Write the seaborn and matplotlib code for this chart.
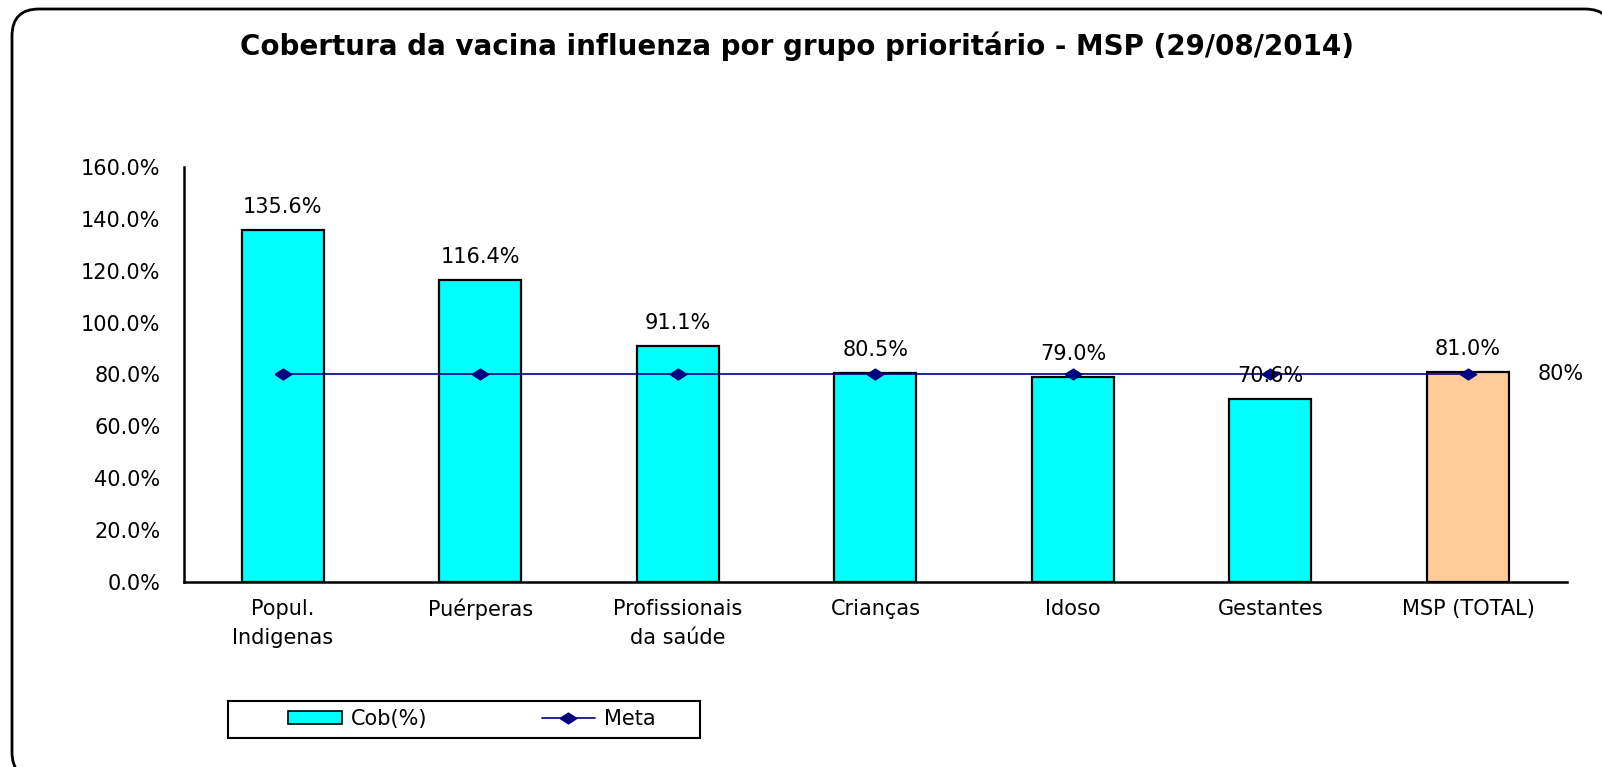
import matplotlib
matplotlib.use("Agg")
import matplotlib.pyplot as plt
import seaborn as sns
from matplotlib.patches import FancyBboxPatch, Patch, Rectangle
from matplotlib.lines import Line2D
from matplotlib.transforms import IdentityTransform

grupos = ["Popul.\nIndigenas", "Puérperas", "Profissionais\nda saúde", "Crianças",
          "Idoso", "Gestantes", "MSP (TOTAL)"]
cobertura = [135.6, 116.4, 91.1, 80.5, 79.0, 70.6, 81.0]
meta = [80, 80, 80, 80, 80, 80, 80]
cores = ["#00FFFF", "#00FFFF", "#00FFFF", "#00FFFF", "#00FFFF", "#00FFFF", "#FFCC99"]
yticks = [0, 20, 40, 60, 80, 100, 120, 140, 160]

sns.set_style("white")
plt.rcParams["font.family"] = ["DejaVu Sans"]
for k in ["text.color", "axes.labelcolor", "xtick.color", "ytick.color"]:
    plt.rcParams[k] = "black"

fs = 15
fig = plt.figure(figsize=(16.02, 7.67), dpi=100)
ax = fig.add_axes([0.1149, 0.2412, 0.978 - 0.1149, 0.7823 - 0.2412])
ax.patch.set_alpha(0)

sns.barplot(x=grupos, y=cobertura, hue=grupos, palette=cores, legend=False,
            width=0.415, edgecolor="black", linewidth=1.6, saturation=1, ax=ax)

diamante = [(-1, 0), (0, 0.65), (1, 0), (0, -0.65), (-1, 0)]
ax.plot(range(len(grupos)), meta, color="#000080", linewidth=1.2,
        marker=diamante, markersize=12, markerfacecolor="#000080",
        markeredgecolor="#000080")

for i, v in enumerate(cobertura):
    ax.text(i, v + 5, f"{v:.1f}%", ha="center", va="bottom", fontsize=fs)
ax.text(len(grupos) - 1 + 0.35, meta[-1], "80%", ha="left", va="center", fontsize=fs)

ax.set_ylim(0, 160)
ax.set_xlim(-0.5, len(grupos) - 0.5)
ax.set_yticks(yticks)
ax.set_yticklabels([f"{t:.1f}%" for t in yticks], fontsize=fs)
ax.tick_params(axis="y", direction="inout", length=11, width=1.5, pad=11.5, color="black")

ax.set_xticks([i - 0.5 for i in range(len(grupos) + 1)])
ax.set_xticklabels([])
ax.set_xticks(range(len(grupos)), minor=True)
ax.set_xticklabels(grupos, minor=True, fontsize=fs, linespacing=1.6, va="top")
ax.tick_params(axis="x", which="major", direction="inout", length=11, width=1.5, color="black")
ax.tick_params(axis="x", which="minor", length=0, pad=12)

for s in ["top", "right"]:
    ax.spines[s].set_visible(False)
for s in ["left", "bottom"]:
    ax.spines[s].set_color("black")
    ax.spines[s].set_linewidth(1.8)
ax.set_xlabel("")
ax.set_ylabel("")

fig.text(797 / 1602, 1 - 46 / 767,
         "Cobertura da vacina influenza por grupo prioritário - MSP (29/08/2014)",
         ha="center", va="center", fontsize=20, fontweight="bold")

handles = [Patch(facecolor="#00FFFF", edgecolor="black", linewidth=1.2),
           Line2D([0], [0], color="#000080", linewidth=1.2, marker=diamante,
                  markersize=12, markerfacecolor="#000080")]
leg = fig.legend(handles, ["Cob(%)", "Meta"], ncol=2, loc="center left",
                 bbox_to_anchor=(278 / 1602, 1 - 719 / 767), fontsize=fs,
                 frameon=False, borderpad=0, handlelength=2.55, handleheight=0.53,
                 columnspacing=5.5, handletextpad=0.43)
fig.patches.append(Rectangle((228 / 1602, 1 - 738 / 767), 472 / 1602, 37 / 767,
                             transform=fig.transFigure, facecolor="none",
                             edgecolor="black", linewidth=1.5))

# moldura arredondada (em pixels), cortada à direita e embaixo como no original
# (preenchida de branco para o Agg não recortar as curvas)
frame = FancyBboxPatch((12, -12), 1600, 770,
                       boxstyle="round,pad=0,rounding_size=27",
                       transform=IdentityTransform(), facecolor="white",
                       edgecolor="black", linewidth=2, zorder=-1)
fig.patches.append(frame)

fig.savefig("out.png", dpi=100)
